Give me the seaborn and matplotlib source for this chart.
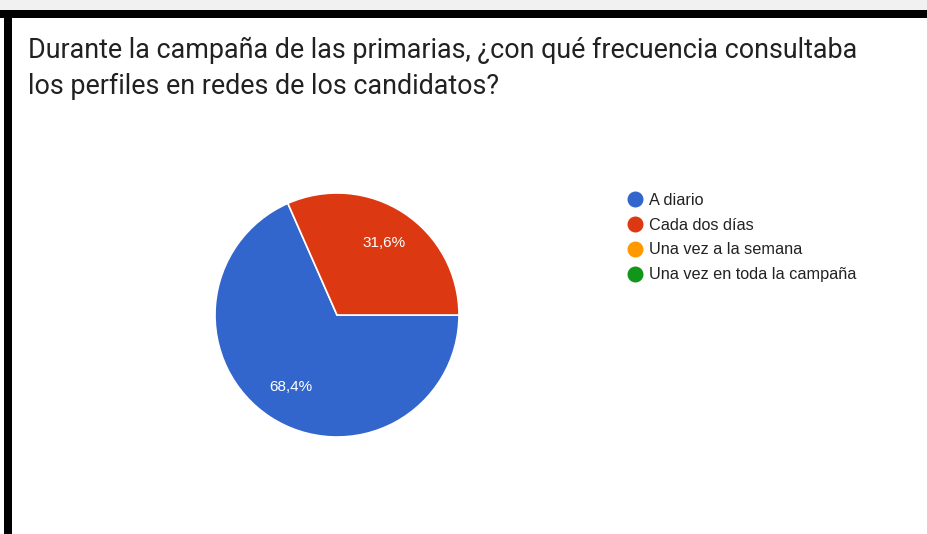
import matplotlib
matplotlib.use("Agg")
import matplotlib.pyplot as plt
from matplotlib.lines import Line2D
from matplotlib.patches import Rectangle
import seaborn as sns

# data
categories = ["A diario", "Cada dos días", "Una vez a la semana", "Una vez en toda la campaña"]
shares = [68.4, 31.6, 0.0, 0.0]
colors = ["#3366CC", "#DC3912", "#FF9900", "#109618"]
title = ("Durante la campaña de las primarias, ¿con qué frecuencia consultaba\n"
         "los perfiles en redes de los candidatos?")

sns.set_theme(style="white")
plt.rcParams["font.family"] = ["Liberation Sans", "DejaVu Sans"]

W, H = 927, 534
fig = plt.figure(figsize=(W / 100, H / 100), dpi=100)
fig.patch.set_facecolor("white")


def px(x, y, w, h):
    # pixel box (top-left origin) -> figure fraction
    return [x / W, 1 - (y + h) / H, w / W, h / H]


# screenshot frame
fig.patches.append(Rectangle((0, 1 - 10 / H), 1, 10 / H, transform=fig.transFigure,
                             facecolor="#f1f1f1", edgecolor="none", zorder=0))
fig.patches.append(Rectangle((0, 1 - 18 / H), 1, 8 / H, transform=fig.transFigure,
                             facecolor="black", edgecolor="none", zorder=1))
fig.patches.append(Rectangle((4 / W, 0), 8 / W, 1 - 10 / H, transform=fig.transFigure,
                             facecolor="black", edgecolor="none", zorder=1))

fig.text(28 / W, 1 - 37 / H, title, ha="left", va="top", fontsize=19.4,
         family=["Roboto", "DejaVu Sans"], color="#212121", linespacing=1.42)

# pie
cx, cy, r = 337, 315, 122
ax = fig.add_axes(px(cx - r, cy - r, 2 * r, 2 * r))
vals = [v for v in shares if v > 0]
cols = [c for v, c in zip(shares, colors) if v > 0]
wedges, texts, autotexts = ax.pie(
    vals, colors=cols, startangle=0, counterclock=False,
    autopct=lambda p: f"{p:.1f}%".replace(".", ","), pctdistance=0.7,
    wedgeprops=dict(edgecolor="white", linewidth=1.2),
    textprops=dict(color="white", fontsize=11))
ax.set_xlim(-1, 1)
ax.set_ylim(-1, 1)
ax.set_aspect("equal")
ax.axis("off")

handles = [Line2D([], [], marker="o", linestyle="", markersize=10.5,
                  markerfacecolor=c, markeredgecolor=c) for c in colors]
leg = fig.legend(handles, categories, loc="upper left",
                 bbox_to_anchor=(628 / W, 1 - 193 / H), frameon=False,
                 fontsize=11.7, handlelength=0.8, handletextpad=0.5,
                 labelspacing=0.6, borderpad=0, borderaxespad=0)
for t in leg.get_texts():
    t.set_color("#222222")

fig.savefig("out.png", dpi=100)
